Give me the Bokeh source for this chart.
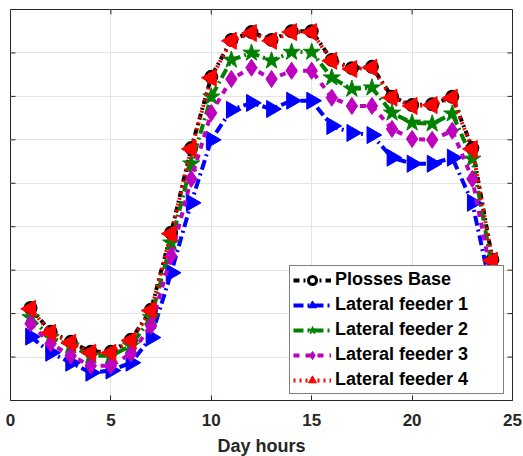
import numpy as np
from bokeh.plotting import figure
from bokeh.models import Legend, LegendItem, LinearAxis, Range1d, FixedTicker
from bokeh.embed import file_html
from bokeh.resources import INLINE

hours = list(range(1, 25))
base = [2.13, 1.58, 1.35, 1.12, 1.12, 1.40, 2.09, 3.86, 5.81, 7.45, 8.30, 8.48, 8.30, 8.50, 8.50, 7.84, 7.65, 7.68, 6.99, 6.80, 6.82, 6.99, 5.81, 3.24]
feeder1 = [1.47, 1.10, 0.87, 0.64, 0.69, 0.87, 1.45, 2.94, 4.55, 6.00, 6.69, 6.85, 6.71, 6.90, 6.90, 6.32, 6.16, 6.11, 5.59, 5.45, 5.45, 5.59, 4.55, 2.41]
feeder2 = [1.91, 1.45, 1.26, 1.03, 1.03, 1.26, 1.91, 3.63, 5.45, 6.99, 7.84, 8.00, 7.82, 8.02, 8.02, 7.43, 7.17, 7.20, 6.62, 6.39, 6.37, 6.60, 5.56, 3.03]
feeder3 = [1.77, 1.31, 1.03, 0.80, 0.80, 1.08, 1.72, 3.33, 5.10, 6.62, 7.40, 7.66, 7.40, 7.59, 7.59, 6.97, 6.78, 6.78, 6.25, 6.02, 6.00, 6.21, 5.10, 2.76]
feeder4 = [2.11, 1.56, 1.33, 1.10, 1.10, 1.38, 2.07, 3.84, 5.79, 7.43, 8.28, 8.46, 8.28, 8.48, 8.48, 7.82, 7.63, 7.66, 6.97, 6.78, 6.80, 6.97, 5.79, 3.22]
x_ticks = [0, 5, 10, 15, 20, 25]
y_ticks = list(range(0, 10))
labels = ["Plosses Base", "Lateral feeder 1", "Lateral feeder 2", "Lateral feeder 3", "Lateral feeder 4"]

FONT = "Liberation Sans"

p = figure(frame_width=502, frame_height=391, output_backend="svg", toolbar_location=None,
           x_range=Range1d(0, 25), y_range=Range1d(0, 9),
           min_border_left=10, min_border_right=11, min_border_top=9, min_border_bottom=20,
           x_axis_location=None, y_axis_location=None)
p.background_fill_color = "white"
p.outline_line_color = "#262626"
p.outline_line_width = 1

xb = LinearAxis(ticker=FixedTicker(ticks=x_ticks), axis_label="Day hours")
p.add_layout(xb, "below")
xb.major_label_text_font = FONT
xb.major_label_text_font_style = "bold"
xb.major_label_text_font_size = "17px"
xb.major_label_text_color = "#262626"
xb.axis_label_text_font = FONT
xb.axis_label_text_font_style = "bold"
xb.axis_label_text_font_size = "18px"
xb.axis_label_text_color = "#262626"
xb.axis_label_standoff = 7
xb.major_label_standoff = 13
xb.major_tick_in = 5
xb.major_tick_out = 0
xb.minor_tick_line_color = None
xb.axis_line_color = "#262626"
xb.major_tick_line_color = "#262626"

p.xgrid.ticker = FixedTicker(ticks=x_ticks)
p.ygrid.ticker = FixedTicker(ticks=y_ticks)
p.xgrid.grid_line_color = "#e3e3e3"
p.ygrid.grid_line_color = "#e3e3e3"

# inner tick marks on left/right/top
dx = 5 / 502 * 25
dy = 5 / 391 * 9
p.segment(x0=[0] * len(y_ticks), y0=y_ticks, x1=[dx] * len(y_ticks), y1=y_ticks, line_color="#262626", line_width=1)
p.segment(x0=[25] * len(y_ticks), y0=y_ticks, x1=[25 - dx] * len(y_ticks), y1=y_ticks, line_color="#262626", line_width=1)
p.segment(x0=x_ticks, y0=[9] * len(x_ticks), x1=x_ticks, y1=[9 - dy] * len(x_ticks), line_color="#262626", line_width=1)

series = [base, feeder1, feeder2, feeder3, feeder4]
colors = ["black", "#0000FF", "#008000", "#BF00BF", "#FF0000"]
dashes = ["dashdot", "10 4 2 4", "10 4 2 4", "dashed", "dotted"]
renderers = []
for i, (ys, c, d) in enumerate(zip(series, colors, dashes)):
    l = p.line(hours, ys, line_color=c, line_width=4, line_dash=d)
    if i == 0:
        m = p.scatter(hours, ys, marker="circle", size=11, line_color=c, line_width=3, fill_color="white")
    elif i == 1:
        m = p.scatter(hours, ys, marker="triangle", angle=-np.pi / 2, size=17, line_color=c, fill_color=c)
    elif i == 2:
        m = p.scatter(hours, ys, marker="star", size=18, line_color=c, fill_color=c)
    elif i == 3:
        m = p.scatter(hours, ys, marker="diamond", size=17, line_color=c, fill_color=c)
    else:
        m = p.scatter(hours, ys, marker="triangle", angle=np.pi / 2, size=17, line_color=c, fill_color=c)
    renderers.append([l, m])

legend = Legend(items=[LegendItem(label=lab, renderers=r) for lab, r in zip(labels, renderers)],
                location=(279, 6))
legend.label_text_font = FONT
legend.label_text_font_style = "bold"
legend.label_text_font_size = "18px"
legend.label_text_color = "black"
legend.glyph_width = 38
legend.glyph_height = 20
legend.label_height = 20
legend.label_width = 165
legend.spacing = 4
legend.padding = 3
legend.margin = 0
legend.label_standoff = 4
legend.border_line_color = "black"
legend.border_line_width = 1
legend.background_fill_color = "white"
legend.background_fill_alpha = 1
p.add_layout(legend, "center")

open("out.html", "w").write(file_html(p, INLINE))
